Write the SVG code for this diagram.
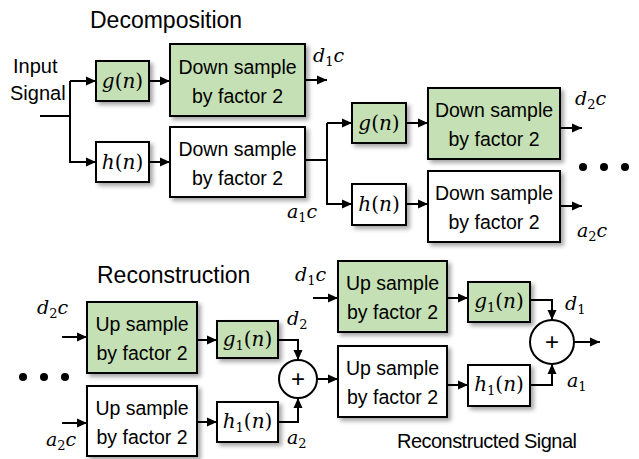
<svg xmlns="http://www.w3.org/2000/svg" width="639" height="459" viewBox="0 0 639 459">
<defs>
<filter id="sh" x="-20%" y="-20%" width="150%" height="150%">
<feDropShadow dx="3" dy="3" stdDeviation="2" flood-color="#000" flood-opacity="0.35"/>
</filter>
<marker id="ar" markerWidth="11" markerHeight="10" refX="10" refY="5" orient="auto" markerUnits="userSpaceOnUse">
<path d="M0,0.5 L10,5 L0,9.5 Z" fill="#000"/>
</marker>
</defs>
<style>
.box{stroke:#000;stroke-width:2;filter:url(#sh)}
.g{fill:#c5e0b4}
.w{fill:#fff}
.t{font-family:"Liberation Sans",Arial,sans-serif;font-size:19.5px;fill:#000;text-anchor:middle}
.h{font-family:"Liberation Sans",Arial,sans-serif;font-size:23px;fill:#000}
.l{font-family:"Liberation Sans",Arial,sans-serif;font-size:20px;fill:#000}
.p{font-family:"Liberation Sans",Arial,sans-serif;font-size:24px;fill:#000;text-anchor:middle}
.m{font-family:"DejaVu Serif","Liberation Serif",serif;font-size:19px;fill:#000}
.mc{font-family:"DejaVu Serif","Liberation Serif",serif;font-size:20px;fill:#000;text-anchor:middle}
.i{font-style:italic}
.s{font-size:13px}
.c{fill:none;stroke:#000;stroke-width:2}
.a{marker-end:url(#ar)}
</style>

<text class="h" x="90" y="28">Decomposition</text>
<text class="h" x="97" y="283">Reconstruction</text>
<text class="l" x="13" y="73">Input</text>
<text class="l" x="10" y="100">Signal</text>
<text class="l" x="397" y="448" textLength="180">Reconstructed Signal</text>

<g id="connectors">
<path class="c" d="M40,116 H70 M70,81 V163"/>
<path class="c a" d="M70,81 H96"/>
<path class="c a" d="M70,162 H96"/>
<path class="c a" d="M149,81 H170"/>
<path class="c a" d="M149,162 H170"/>
<path class="c a" d="M305,80 H327"/>
<path class="c" d="M305,160 H327 M327,123 V205"/>
<path class="c a" d="M327,123 H352"/>
<path class="c a" d="M327,204 H352"/>
<path class="c a" d="M406,123 H428"/>
<path class="c a" d="M406,204 H428"/>
<path class="c a" d="M560,128 H582"/>
<path class="c a" d="M560,206 H582"/>
<path class="c a" d="M62,337 H87"/>
<path class="c a" d="M62,423 H87"/>
<path class="c a" d="M197,340 H217"/>
<path class="c a" d="M197,422 H217"/>
<path class="c a" d="M278,340 H298 V360"/>
<path class="c a" d="M278,422 H298 V398"/>
<path class="c a" d="M317,379 H338"/>
<path class="c a" d="M313,298 H338"/>
<path class="c a" d="M447,298 H468"/>
<path class="c a" d="M447,385 H468"/>
<path class="c a" d="M530,300 H552 V320"/>
<path class="c a" d="M530,385 H552 V364"/>
<path class="c a" d="M574,342 H600"/>
</g>

<g id="dots-right" fill="#000"><circle cx="583" cy="167" r="4"/><circle cx="604" cy="167" r="4"/><circle cx="625" cy="167" r="4"/></g>
<g id="dots-left" fill="#000"><circle cx="23" cy="377" r="4"/><circle cx="44" cy="377" r="4"/><circle cx="65" cy="377" r="4"/></g>

<g id="g1"><rect class="box g" x="96" y="61" width="53" height="40"/><text class="mc" x="122.5" y="88"><tspan class="i">g</tspan>(<tspan class="i">n</tspan>)</text></g>
<g id="h1"><rect class="box w" x="96" y="142" width="53" height="40"/><text class="mc" x="122.5" y="169"><tspan class="i">h</tspan>(<tspan class="i">n</tspan>)</text></g>
<g id="ds1"><rect class="box g" x="170" y="44" width="135" height="72"/><text class="t" x="237.5" y="74">Down sample</text><text class="t" x="237.5" y="103">by factor 2</text></g>
<g id="ds2"><rect class="box w" x="170" y="127" width="135" height="70"/><text class="t" x="237.5" y="156">Down sample</text><text class="t" x="237.5" y="185">by factor 2</text></g>
<g id="g2"><rect class="box g" x="352" y="103" width="54" height="40"/><text class="mc" x="379" y="130"><tspan class="i">g</tspan>(<tspan class="i">n</tspan>)</text></g>
<g id="h2"><rect class="box w" x="352" y="184" width="54" height="41"/><text class="mc" x="379" y="211"><tspan class="i">h</tspan>(<tspan class="i">n</tspan>)</text></g>
<g id="ds3"><rect class="box g" x="428" y="88" width="132" height="71"/><text class="t" x="494" y="117">Down sample</text><text class="t" x="494" y="146">by factor 2</text></g>
<g id="ds4"><rect class="box w" x="428" y="171" width="132" height="71"/><text class="t" x="494" y="200">Down sample</text><text class="t" x="494" y="229">by factor 2</text></g>

<g id="up1"><rect class="box g" x="87" y="302" width="110" height="71"/><text class="t" x="142" y="331">Up sample</text><text class="t" x="142" y="360">by factor 2</text></g>
<g id="up2"><rect class="box w" x="87" y="386" width="110" height="70"/><text class="t" x="142" y="415">Up sample</text><text class="t" x="142" y="444">by factor 2</text></g>
<g id="gn1"><rect class="box g" x="217" y="321" width="61" height="37"/><text class="mc" x="247.5" y="346"><tspan class="i">g</tspan><tspan class="s" dy="4">1</tspan><tspan dy="-4">(</tspan><tspan class="i">n</tspan>)</text></g>
<g id="hn1"><rect class="box w" x="217" y="402" width="61" height="40"/><text class="mc" x="247.5" y="428"><tspan class="i">h</tspan><tspan class="s" dy="4">1</tspan><tspan dy="-4">(</tspan><tspan class="i">n</tspan>)</text></g>
<g id="sum1"><circle cx="298" cy="379" r="19" fill="#fff" stroke="#000" stroke-width="2"/><text class="p" x="298" y="387">+</text></g>
<g id="up3"><rect class="box g" x="338" y="261" width="109" height="71"/><text class="t" x="392.5" y="290">Up sample</text><text class="t" x="392.5" y="319">by factor 2</text></g>
<g id="up4"><rect class="box w" x="338" y="346" width="109" height="71"/><text class="t" x="392.5" y="375">Up sample</text><text class="t" x="392.5" y="404">by factor 2</text></g>
<g id="gn2"><rect class="box g" x="468" y="282" width="62" height="40"/><text class="mc" x="499" y="308"><tspan class="i">g</tspan><tspan class="s" dy="4">1</tspan><tspan dy="-4">(</tspan><tspan class="i">n</tspan>)</text></g>
<g id="hn2"><rect class="box w" x="468" y="365" width="62" height="41"/><text class="mc" x="499" y="391"><tspan class="i">h</tspan><tspan class="s" dy="4">1</tspan><tspan dy="-4">(</tspan><tspan class="i">n</tspan>)</text></g>
<g id="sum2"><circle cx="552" cy="342" r="22" fill="#fff" stroke="#000" stroke-width="2"/><text class="p" x="552" y="350">+</text></g>

<g id="labels">
<text class="m" x="313" y="62"><tspan class="i">d</tspan><tspan class="s" dy="4">1</tspan><tspan class="i" dy="-4">c</tspan></text>
<text class="m" x="287" y="218"><tspan class="i">a</tspan><tspan class="s" dy="4">1</tspan><tspan class="i" dy="-4">c</tspan></text>
<text class="m" x="575" y="105"><tspan class="i">d</tspan><tspan class="s" dy="4">2</tspan><tspan class="i" dy="-4">c</tspan></text>
<text class="m" x="577" y="237"><tspan class="i">a</tspan><tspan class="s" dy="4">2</tspan><tspan class="i" dy="-4">c</tspan></text>
<text class="m" x="37" y="314"><tspan class="i">d</tspan><tspan class="s" dy="4">2</tspan><tspan class="i" dy="-4">c</tspan></text>
<text class="m" x="46" y="446"><tspan class="i">a</tspan><tspan class="s" dy="4">2</tspan><tspan class="i" dy="-4">c</tspan></text>
<text class="m" x="295" y="281"><tspan class="i">d</tspan><tspan class="s" dy="4">1</tspan><tspan class="i" dy="-4">c</tspan></text>
<text class="m" x="287" y="325"><tspan class="i">d</tspan><tspan class="s" dy="4">2</tspan></text>
<text class="m" x="287" y="444"><tspan class="i">a</tspan><tspan class="s" dy="4">2</tspan></text>
<text class="m" x="565" y="310"><tspan class="i">d</tspan><tspan class="s" dy="4">1</tspan></text>
<text class="m" x="567" y="387"><tspan class="i">a</tspan><tspan class="s" dy="4">1</tspan></text>
</g>
</svg>
